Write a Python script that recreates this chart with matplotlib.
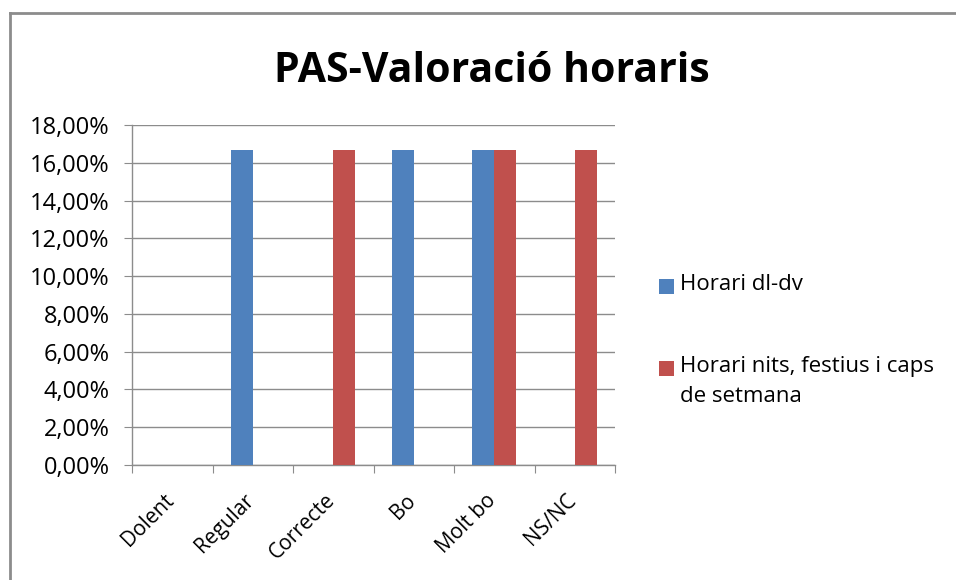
import matplotlib
matplotlib.use("Agg")
import matplotlib.pyplot as plt
import numpy as np
from matplotlib.lines import Line2D
from matplotlib.patches import Rectangle
from matplotlib.ticker import FuncFormatter, MultipleLocator
from matplotlib.transforms import ScaledTranslation

categories = ["Dolent", "Regular", "Correcte", "Bo", "Molt bo", "NS/NC"]
series_names = ["Horari dl-dv", "Horari nits, festius i caps\nde setmana"]
dl_dv = [0.0, 16.67, 0.0, 16.67, 16.67, 0.0]
nits = [0.0, 0.0, 16.67, 0.0, 16.67, 16.67]
colors = ["#4F81BD", "#C0504D"]

plt.rcParams['font.family'] = ['Open Sans', 'DejaVu Sans']

fig = plt.figure(figsize=(9.56, 5.8), dpi=100)
W, H = 956, 580
ax = fig.add_axes([132 / W, 1 - 465 / H, (615 - 132) / W, (465 - 125) / H])

x = np.arange(len(categories))
bw = 0.275
ax.bar(x - bw / 2, dl_dv, bw, color=colors[0], label=series_names[0], zorder=3)
ax.bar(x + bw / 2, nits, bw, color=colors[1], label=series_names[1], zorder=3)

ax.set_xlim(-0.5, len(categories) - 0.5)
ax.set_ylim(0, 18)
ax.yaxis.set_major_locator(MultipleLocator(2))
ax.yaxis.set_major_formatter(FuncFormatter(lambda v, p: f"{v:.2f}".replace(".", ",") + "%"))
ax.grid(axis='y', color='#8C8C8C', linewidth=1, zorder=0)
for s in ['top', 'right']:
    ax.spines[s].set_visible(False)
for s in ['left', 'bottom']:
    ax.spines[s].set_color('#8C8C8C')
    ax.spines[s].set_linewidth(1)

ax.set_xticks(np.arange(-0.5, len(categories)), minor=False)
ax.set_xticklabels([])
ax.set_xticks(x, minor=True)
ax.set_xticklabels(categories, minor=True, rotation=45, ha='right', va='top',
                   rotation_mode='anchor', fontsize=15)
ax.tick_params(axis='x', which='minor', length=0, pad=18)
ax.tick_params(axis='x', which='major', length=6, color='#8C8C8C', direction='out')
ax.tick_params(axis='y', length=6, color='#8C8C8C', labelsize=17, pad=10)
shift = ScaledTranslation(-9 / 100, 0, fig.dpi_scale_trans)
for lbl in ax.get_xticklabels(minor=True):
    lbl.set_transform(lbl.get_transform() + shift)

fig.text(492 / W, 1 - 72 / H, "PAS-Valoració horaris", fontsize=29.5, fontweight='bold',
         ha='center', va='center')

# Legend drawn as patches + text to mimic Excel alignment
leg_y = [286, 368]
for name, col, yy in zip(series_names, colors, leg_y):
    fig.patches.append(Rectangle((659 / W, 1 - (yy + 7.5) / H), 15 / W, 15 / H,
                                 transform=fig.transFigure, facecolor=col, edgecolor='none'))
    fig.text(680 / W, 1 - (yy - 12) / H, name, fontsize=16, ha='left', va='top',
             linespacing=1.55)

fig.add_artist(Line2D([10 / W, 10 / W], [0, 1 - 13 / H], transform=fig.transFigure,
                      color='#8C8C8C', linewidth=2))
fig.add_artist(Line2D([10 / W, 1], [1 - 13 / H, 1 - 13 / H], transform=fig.transFigure,
                      color='#8C8C8C', linewidth=2))

fig.savefig("out.png", dpi=100)
